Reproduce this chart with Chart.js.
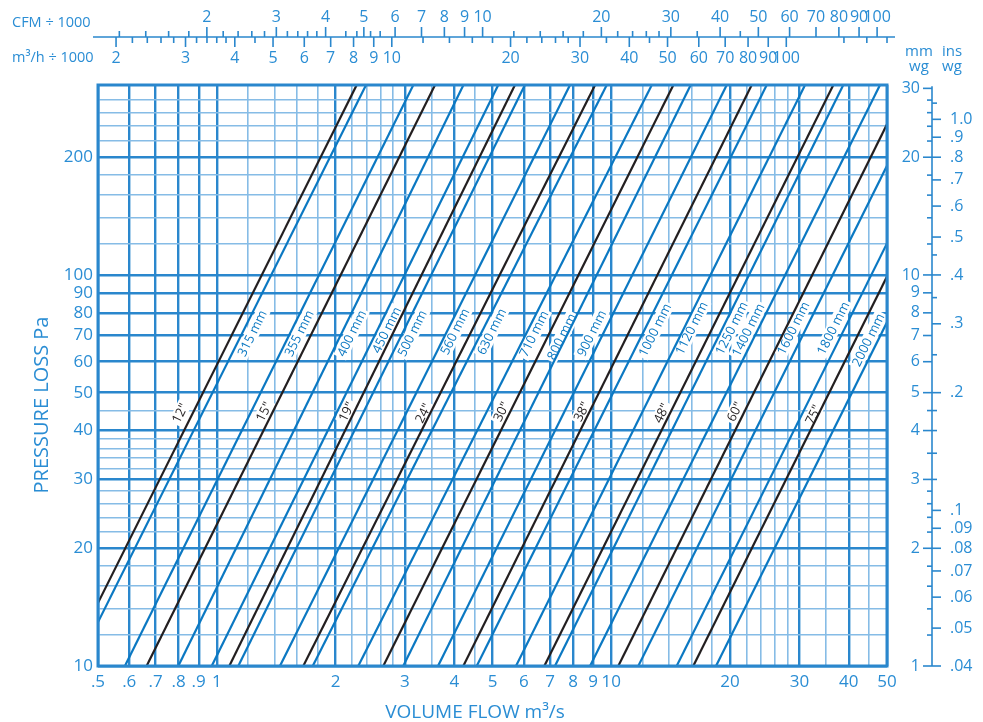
<!DOCTYPE html>
<html><head><meta charset="utf-8">
<script src="https://cdn.jsdelivr.net/npm/chart.js@4.4.1/dist/chart.umd.min.js"></script>
<style>html,body{margin:0;padding:0;background:#fff}#wrap{width:983px;height:722px;position:relative}</style>
</head><body><div id="wrap"><canvas id="c"></canvas></div>
<script>
// ---------------- data ----------------
const flowMin = 0.5, flowMax = 50;          // m3/s
const pressureMin = 10, pressureTop = 306;  // Pa

const flowMajorTicks = [0.5,0.6,0.7,0.8,0.9,1,2,3,4,5,6,7,8,9,10,20,30,40,50];
const flowTickLabels = ['.5','.6','.7','.8','.9','1','2','3','4','5','6','7','8','9','10','20','30','40','50'];
const flowMinorTicks = [1.2,1.4,1.6,1.8,2.2,2.4,2.6,2.8,3.5,4.5,12,14,16,18,22,24,26,28,35,45];

const pressureMajorTicks = [10,20,30,40,50,60,70,80,90,100,200];
const pressureTickLabels = ['10','20','30','40','50','60','70','80','90','100','200'];
const pressureMinorTicks = [12,14,16,18,22,24,26,28,32,34,36,38,45,120,140,160,180,220,240,260,280];

// metric ducts: flow (m3/s) at 10 Pa and at top of chart
const ductMm = ['315 mm','355 mm','400 mm','450 mm','500 mm','560 mm','630 mm','710 mm','800 mm','900 mm','1000 mm','1120 mm','1250 mm','1400 mm','1600 mm','1800 mm','2000 mm'];
const ductMmFlowAt10Pa = [0.440,0.585,0.799,0.971,1.134,1.446,1.751,2.284,2.970,3.638,4.560,5.735,7.199,8.835,11.71,14.65,18.43];
const ductMmFlowAtTop  = [2.39,3.15,4.22,5.17,6.04,7.86,9.74,12.67,15.90,19.62,24.78,30.99,38.74,48.0,63.2,79.2,99.6];
const ductMmLabelFlow  = [1.231,1.619,2.198,2.696,3.131,4.017,4.977,6.37,7.49,8.92,12.91,15.99,20.2,22.25,28.94,36.55,44.85];
const ductMmLabelPa    = [70.9,70.9,70.9,72.3,70.9,71.6,71.6,70.7,69.5,70.9,72.3,73.1,73.1,72.3,73.1,73.1,68.2];

// imperial ducts
const ductIn = ['12"','15"','19"','24"','30"','38"','48"','60"','75"'];
const ductInFlowAt10Pa = [0.416,0.664,1.076,1.657,2.643,4.217,6.766,10.42,16.14];
const ductInFlowAtTop  = [2.263,3.575,5.70,9.10,14.37,22.70,36.55,56.0,87.2];
const ductInLabelFlow  = [0.807,1.318,2.135,3.338,5.27,8.42,13.42,20.59,32.53];
const ductInLabelPa    = [44.3,44.7,44.7,44.3,44.7,44.7,44.3,44.7,43.9];

// top scales
const cfmMajorTicks = [2,3,4,5,6,7,8,9,10,20,30,40,50,60,70,80,90,100];
const cfmTickLabels = ['2','3','4','5','6','7','8','9','10','20','30','40','50','60','70','80','90','100'];
const cfmMinorTicks = [1.2,1.4,1.6,1.8,2.2,2.4,2.6,2.8,3.2,3.4,3.6,3.8,4.5,4.8,5.2,5.5,12,14,16,18,22,24,26,28,35,45];
const m3hMajorTicks = [2,3,4,5,6,7,8,9,10,20,30,40,50,60,70,80,90,100];
const m3hTickLabels = ['2','3','4','5','6','7','8','9','10','20','30','40','50','60','70','80','90','100'];
const m3hMinorTicks = [2.2,2.4,2.6,2.8,3.2,3.4,3.6,3.8,4.5,12,14,16,18,22,24,26,28,35,45,140,160,180];

// right scales
const mmwgMajorTicks = [1,2,3,4,5,6,7,8,9,10,20,30];
const mmwgTickLabels = ['1','2','3','4','5','6','7','8','9','10','20','30'];
const mmwgMinorTicks = [1.2,1.4,1.6,1.8,2.2,2.4,2.6,2.8,3.5,4.5,12,14,16,18,22,24,26,28];
const inwgMajorTicks = [0.04,0.05,0.06,0.07,0.08,0.09,0.1,0.2,0.3,0.4,0.5,0.6,0.7,0.8,0.9,1.0];
const inwgTickLabels = ['.04','.05','.06','.07','.08','.09','.1','.2','.3','.4','.5','.6','.7','.8','.9','1.0'];
const inwgMinorTicks = [0.12,0.14,0.16,0.18,0.25,0.35,0.45,1.1];

// unit conversions used by the chart
const CFM_PER_M3S = 2118.88;
const M3H_PER_M3S = 3600;
const PA_PER_MMWG = 10;
const PA_PER_INWG = 250;

// ---------------- styling ----------------
const FONT = "'Open Sans', 'DejaVu Sans', sans-serif";
const TEXT_BLUE = '#2a8dd4';
const GRID_MAJOR = '#2a87cd';
const GRID_MINOR = '#86bce6';
const LINE_BLUE = '#0b78c2';
const LINE_BLACK = '#231f20';

function near(a, b) { return Math.abs(a - b) < 1e-6 * Math.max(1, Math.abs(b)); }
function idxOf(arr, v) { return arr.findIndex(t => near(t, v)); }

const datasets = [];
ductMm.forEach((name, i) => datasets.push({
  label: name,
  data: [{x: ductMmFlowAt10Pa[i], y: pressureMin}, {x: ductMmFlowAtTop[i], y: pressureTop}],
  borderColor: LINE_BLUE, borderWidth: 2.2, pointRadius: 0, tension: 0, clip: 0
}));
ductIn.forEach((name, i) => datasets.push({
  label: name,
  data: [{x: ductInFlowAt10Pa[i], y: pressureMin}, {x: ductInFlowAtTop[i], y: pressureTop}],
  borderColor: LINE_BLACK, borderWidth: 2.2, pointRadius: 0, tension: 0, clip: 0
}));

function lineAngle(ch) {
  const xs = ch.scales.x, ys = ch.scales.y;
  const x1 = xs.getPixelForValue(ductInFlowAt10Pa[1]), y1 = ys.getPixelForValue(pressureMin);
  const x2 = xs.getPixelForValue(ductInFlowAtTop[1]), y2 = ys.getPixelForValue(pressureTop);
  return Math.atan2(y1 - y2, x2 - x1);
}

function drawDuctLabels(ch, background) {
  const c = ch.ctx, xs = ch.scales.x, ys = ch.scales.y, ca = ch.chartArea;
  const a = lineAngle(ch);
  const items = [];
  ductMm.forEach((t, i) => items.push({t, q: ductMmLabelFlow[i], p: ductMmLabelPa[i], col: LINE_BLUE}));
  ductIn.forEach((t, i) => items.push({t, q: ductInLabelFlow[i], p: ductInLabelPa[i], col: LINE_BLACK}));
  c.save();
  c.beginPath(); c.rect(ca.left, ca.top, ca.right - ca.left, ca.bottom - ca.top); c.clip();
  items.forEach(it => {
    const px = xs.getPixelForValue(it.q), py = ys.getPixelForValue(it.p);
    c.save();
    c.translate(px, py); c.rotate(-a);
    c.font = `13px ${FONT}`;
    const w = c.measureText(it.t).width;
    if (background) {
      c.fillStyle = '#fff';
      c.fillRect(-w / 2 - 2, -7, w + 4, 14);
    } else {
      c.fillStyle = it.col; c.textAlign = 'center'; c.textBaseline = 'middle';
      c.fillText(it.t, 0, 0.5);
    }
    c.restore();
  });
  c.restore();
}

function drawFrame(ch) {
  const c = ch.ctx, ca = ch.chartArea;
  c.save();
  c.strokeStyle = GRID_MAJOR; c.lineWidth = 3;
  c.strokeRect(ca.left, ca.top, ca.right - ca.left, ca.bottom - ca.top);
  c.restore();
}

function tick(c, x1, y1, x2, y2) { c.beginPath(); c.moveTo(x1, y1); c.lineTo(x2, y2); c.stroke(); }

function drawTopAxes(ch) {
  const c = ch.ctx, xs = ch.scales.x, ca = ch.chartArea;
  const yLine = ca.top - 48;
  c.save();
  c.strokeStyle = GRID_MAJOR; c.lineWidth = 1.6;
  tick(c, ca.left - 5, yLine, ca.right + 8, yLine);
  c.fillStyle = TEXT_BLUE; c.font = `16px ${FONT}`; c.textAlign = 'center'; c.textBaseline = 'middle';
  cfmMinorTicks.forEach(v => { const px = xs.getPixelForValue(v * 1000 / CFM_PER_M3S); tick(c, px, yLine, px, yLine - 6); });
  cfmMajorTicks.forEach((v, i) => {
    const px = xs.getPixelForValue(v * 1000 / CFM_PER_M3S);
    tick(c, px, yLine, px, yLine - 10);
    c.fillText(cfmTickLabels[i], px, yLine - 20);
  });
  m3hMinorTicks.forEach(v => { const px = xs.getPixelForValue(v * 1000 / M3H_PER_M3S); tick(c, px, yLine, px, yLine + 6); });
  m3hMajorTicks.forEach((v, i) => {
    const px = xs.getPixelForValue(v * 1000 / M3H_PER_M3S);
    tick(c, px, yLine, px, yLine + 10);
    c.fillText(m3hTickLabels[i], px, yLine + 21);
  });
  c.font = `14.5px ${FONT}`; c.textAlign = 'left';
  c.fillText('CFM ÷ 1000', 12, yLine - 14);
  c.fillText('m³/h ÷ 1000', 12, yLine + 21);
  c.restore();
}

function drawRightAxes(ch) {
  const c = ch.ctx, ys = ch.scales.y, ca = ch.chartArea;
  const xA = ca.right + 45;
  c.save();
  c.strokeStyle = GRID_MAJOR; c.lineWidth = 1.6;
  tick(c, xA, ys.getPixelForValue(30 * PA_PER_MMWG) - 2, xA, ys.getPixelForValue(1 * PA_PER_MMWG));
  c.fillStyle = TEXT_BLUE; c.font = `16px ${FONT}`; c.textBaseline = 'middle';
  mmwgMinorTicks.forEach(v => { const py = ys.getPixelForValue(v * PA_PER_MMWG); tick(c, xA - 5, py, xA, py); });
  c.textAlign = 'right';
  mmwgMajorTicks.forEach((v, i) => {
    const py = ys.getPixelForValue(v * PA_PER_MMWG);
    tick(c, xA - 9, py, xA, py);
    c.fillText(mmwgTickLabels[i], xA - 12, py);
  });
  inwgMinorTicks.forEach(v => { const py = ys.getPixelForValue(v * PA_PER_INWG); tick(c, xA, py, xA + 5, py); });
  c.textAlign = 'left';
  inwgMajorTicks.forEach((v, i) => {
    const py = ys.getPixelForValue(v * PA_PER_INWG);
    tick(c, xA, py, xA + 9, py);
    c.fillText(inwgTickLabels[i], xA + 18, py);
  });
  c.font = `15px ${FONT}`; c.textAlign = 'center';
  c.fillText('mm', xA - 13, 52); c.fillText('wg', xA - 13, 67);
  c.fillText('ins', xA + 20, 52); c.fillText('wg', xA + 20, 67);
  c.restore();
}

function drawTitles(ch) {
  const c = ch.ctx;
  c.save();
  c.fillStyle = TEXT_BLUE; c.textAlign = 'center'; c.textBaseline = 'middle';
  c.font = `19px ${FONT}`;
  c.fillText('VOLUME FLOW m³/s', 475, 713);
  c.font = `20px ${FONT}`;
  c.translate(42, 405); c.rotate(-Math.PI / 2);
  c.fillText('PRESSURE LOSS Pa', 0, 0);
  c.restore();
}

const nomogramPlugin = {
  id: 'nomogram',
  beforeDatasetsDraw(ch) { drawDuctLabels(ch, true); },
  afterDatasetsDraw(ch) { drawDuctLabels(ch, false); drawFrame(ch); },
  afterDraw(ch) { drawTopAxes(ch); drawRightAxes(ch); drawTitles(ch); }
};

function gridColor(majors) { return ctx => (ctx.tick && idxOf(majors, ctx.tick.value) >= 0) ? GRID_MAJOR : GRID_MINOR; }
function gridWidth(majors) { return ctx => (ctx.tick && idxOf(majors, ctx.tick.value) >= 0) ? 2.4 : 1.6; }

new Chart(document.getElementById('c'), {
  type: 'line',
  data: { datasets },
  options: {
    responsive: true, maintainAspectRatio: false, animation: false,
    layout: { padding: { top: 85, right: 96, left: 0, bottom: 0 } },
    plugins: { legend: { display: false }, tooltip: { enabled: false } },
    scales: {
      x: {
        type: 'logarithmic', min: flowMin, max: flowMax, position: 'bottom',
        afterBuildTicks: s => { s.ticks = [...flowMajorTicks, ...flowMinorTicks].sort((a, b) => a - b).map(v => ({ value: v })); },
        afterFit: s => { s.height = 56; },
        ticks: {
          autoSkip: false, maxRotation: 0, minRotation: 0, padding: 6, color: TEXT_BLUE,
          font: { family: FONT, size: 17 },
          callback: v => { const i = idxOf(flowMajorTicks, v); return i >= 0 ? flowTickLabels[i] : ''; }
        },
        grid: { drawTicks: false, color: gridColor(flowMajorTicks), lineWidth: gridWidth(flowMajorTicks) },
        border: { display: false }
      },
      y: {
        type: 'logarithmic', min: pressureMin, max: pressureTop, position: 'left',
        afterBuildTicks: s => { s.ticks = [...pressureMajorTicks, ...pressureMinorTicks].sort((a, b) => a - b).map(v => ({ value: v })); },
        afterFit: s => { s.width = 98; },
        ticks: {
          autoSkip: false, padding: 5, color: TEXT_BLUE,
          font: { family: FONT, size: 17 },
          callback: v => { const i = idxOf(pressureMajorTicks, v); return i >= 0 ? pressureTickLabels[i] : ''; }
        },
        grid: { drawTicks: false, color: gridColor(pressureMajorTicks), lineWidth: gridWidth(pressureMajorTicks) },
        border: { display: false }
      }
    }
  },
  plugins: [nomogramPlugin]
});
</script></body></html>
